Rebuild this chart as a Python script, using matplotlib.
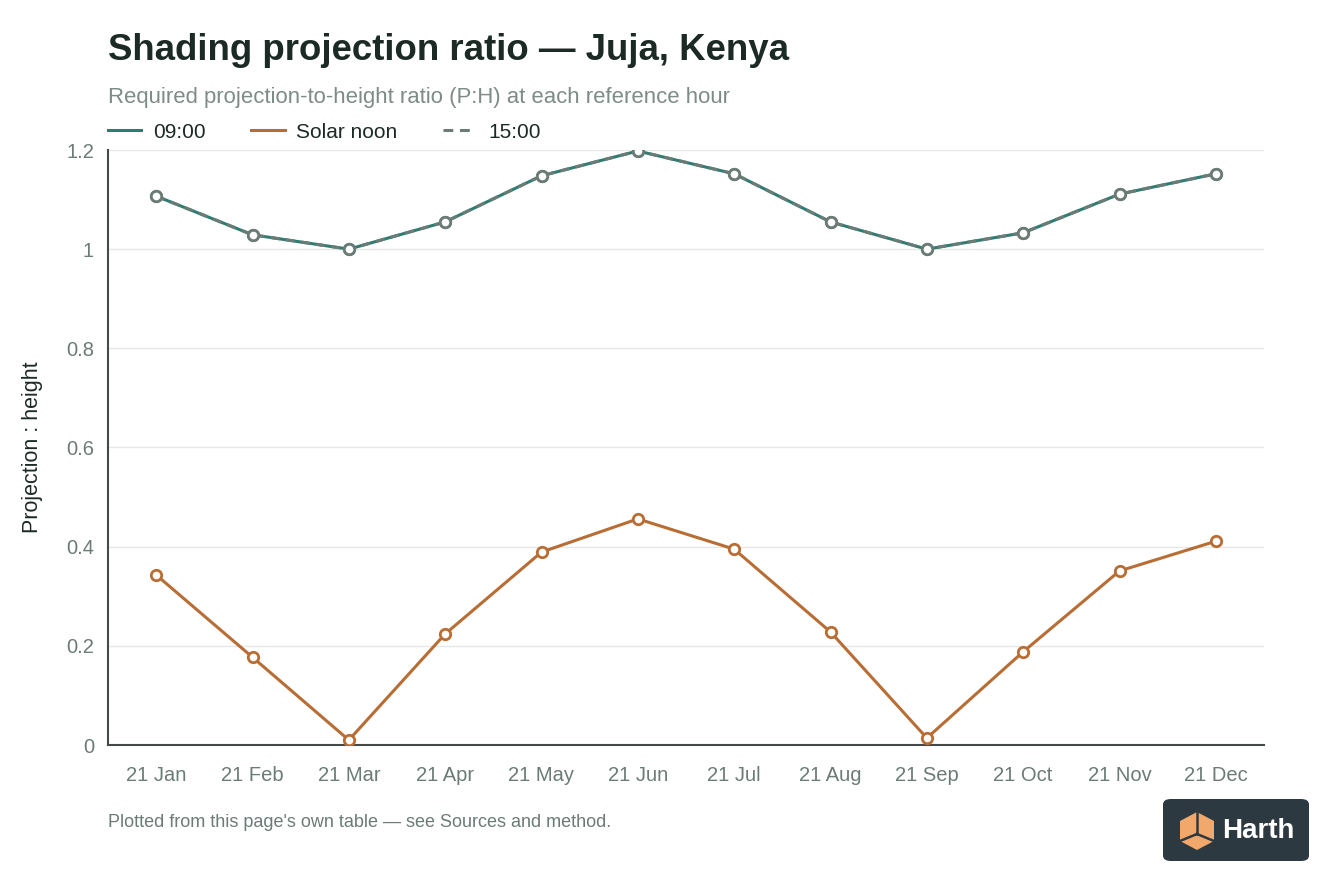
import matplotlib.pyplot as plt
from matplotlib.patches import FancyBboxPatch, Polygon

plt.rcParams['font.family'] = ['Liberation Sans', 'DejaVu Sans']

months = ['21 Jan', '21 Feb', '21 Mar', '21 Apr', '21 May', '21 Jun',
          '21 Jul', '21 Aug', '21 Sep', '21 Oct', '21 Nov', '21 Dec']
morning = [1.107, 1.029, 1.000, 1.055, 1.148, 1.198, 1.152, 1.055, 1.000, 1.033, 1.111, 1.152]
noon = [0.343, 0.177, 0.010, 0.224, 0.389, 0.456, 0.395, 0.228, 0.014, 0.188, 0.351, 0.411]
afternoon = [1.107, 1.029, 1.000, 1.055, 1.148, 1.198, 1.152, 1.055, 1.000, 1.033, 1.111, 1.152]
yticks = [0, 0.2, 0.4, 0.6, 0.8, 1, 1.2]
ytick_labels = ['0', '0.2', '0.4', '0.6', '0.8', '1', '1.2']

teal = '#2e7d73'
orange = '#b86d35'
grey = '#6b7b76'
dark = '#1c2a26'

fig = plt.figure(figsize=(13.44, 8.96), dpi=100)
ax = fig.add_axes([108 / 1344, 1 - 745 / 896, (1264 - 108) / 1344, (745 - 150) / 896])

x = list(range(len(months)))
ax.plot(x, morning, color=teal, lw=2.2, marker='o', ms=7.5, mfc='white',
        mec=grey, mew=2, label='09:00', zorder=3)
ax.plot(x, noon, color=orange, lw=2.2, marker='o', ms=7.5, mfc='white',
        mec=orange, mew=2, label='Solar noon', zorder=3)
ax.plot(x, afternoon, color=grey, lw=2.2, ls=(0, (3, 2)), marker='o', ms=7.5,
        mfc='white', mec=grey, mew=2, label='15:00', zorder=4)

ax.set_xlim(-0.5, 11.5)
ax.set_ylim(0, 1.2)
ax.set_xticks(x)
ax.set_xticklabels(months)
ax.set_yticks(yticks)
ax.set_yticklabels(ytick_labels)
ax.tick_params(axis='both', length=0, labelsize=14.5, labelcolor=grey)
ax.tick_params(axis='x', pad=15)
ax.tick_params(axis='y', pad=10)
ax.grid(axis='y', color='#e6e8e7', lw=1)
ax.set_axisbelow(True)
for s in ['top', 'right']:
    ax.spines[s].set_visible(False)
for s in ['left', 'bottom']:
    ax.spines[s].set_color('#444a48')
    ax.spines[s].set_linewidth(1.5)
ax.set_ylabel('Projection : height', fontsize=15.5, color=dark, labelpad=17)

labels = ['09:00', 'Solar noon', '15:00']
leg = fig.legend([plt.Line2D([], [], color=teal, lw=2.2),
                  plt.Line2D([], [], color=orange, lw=2.2),
                  plt.Line2D([], [], color=grey, lw=2.2, ls=(0, (3.2, 2.2)))],
                 labels, loc='center left', bbox_to_anchor=(108 / 1344, 1 - 132 / 896),
                 ncol=3, frameon=False, fontsize=15, handlelength=1.6,
                 columnspacing=2.2, handletextpad=0.55, borderpad=0, borderaxespad=0)
for t in leg.get_texts():
    t.set_color(dark)

fig.text(108 / 1344, 1 - 50 / 896, 'Shading projection ratio — Juja, Kenya',
         fontsize=26.4, fontweight='bold', color=dark, va='center')
fig.text(108 / 1344, 1 - 97 / 896,
         'Required projection-to-height ratio (P:H) at each reference hour',
         fontsize=15.9, color='#7d8c88', va='center')
fig.text(108 / 1344, 1 - 822 / 896,
         "Plotted from this page's own table — see Sources and method.",
         fontsize=13, color=grey, va='center')

# logo badge
W, H = 1344, 896
box = FancyBboxPatch((1163 / W, 1 - 861 / H), 146 / W, 62 / H,
                     boxstyle='round,pad=0,rounding_size=0.006',
                     transform=fig.transFigure, fc='#2d3940', ec='none')
fig.patches.append(box)
cx, cy = 1197, 830
pts = [(cx - 17, cy - 9), (cx, cy - 18), (cx + 17, cy - 9),
       (cx + 17, cy + 11), (cx, cy + 20), (cx - 17, cy + 11)]
fig.patches.append(Polygon([(px / W, 1 - py / H) for px, py in pts],
                           closed=True, transform=fig.transFigure,
                           fc='#f2a86a', ec='none'))
for seg in [[(cx, cy - 18), (cx, cy + 4)], [(cx, cy + 4), (cx - 17, cy + 11)],
            [(cx, cy + 4), (cx + 17, cy + 11)]]:
    fig.lines.append(plt.Line2D([p[0] / W for p in seg], [1 - p[1] / H for p in seg],
                                transform=fig.transFigure, color='#2d3940', lw=1.8))
fig.text(1222 / W, 1 - 831 / H, 'Harth', fontsize=20, fontweight='bold',
         color='white', va='center')

fig.savefig('out.png', dpi=100, facecolor='white')
